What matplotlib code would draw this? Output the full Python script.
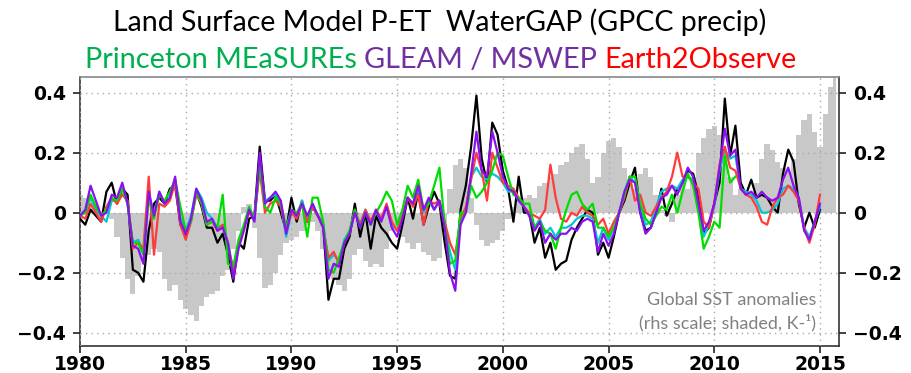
import numpy as np
import matplotlib
matplotlib.use("Agg")
import matplotlib.pyplot as plt

# ---------------- data (quarterly) ----------------
start_year = 1980.0
step = 0.25

watergap = [
    -0.02, -0.04, 0.01, -0.01,  -0.03, 0.07, 0.10, 0.03,   0.08, 0.06, -0.19, -0.20,
    -0.23, -0.06, 0.03, 0.05,   0.03, 0.08, 0.09, -0.04,   -0.08, -0.02, 0.07, 0.02,
    -0.05, -0.05, -0.10, -0.07, -0.14, -0.23, -0.10, -0.12, -0.02, -0.01, 0.22, 0.04,
    0.04, 0.06, 0.00, -0.06,    0.05, -0.03, 0.04, -0.03,  0.02, -0.01, -0.04, -0.29,
    -0.22, -0.22, -0.12, -0.08, 0.03, -0.08, 0.00, -0.12,  -0.01, -0.05, -0.07, -0.10,
    -0.12, -0.04, 0.05, -0.02,  0.07, -0.04, 0.02, 0.07,   0.03, -0.10, -0.21, -0.22,
    0.01, 0.09, 0.22, 0.39,     0.18, 0.10, 0.30, 0.26,    0.14, 0.08, -0.03, 0.12,
    0.00, 0.00, -0.10, -0.05,   -0.15, -0.10, -0.19, -0.17, -0.16, -0.09, -0.05, -0.02,
    0.01, 0.00, -0.14, -0.10,   -0.15, -0.08, 0.00, 0.04,  0.10, 0.15, 0.00, -0.06,
    -0.05, 0.00, 0.08, -0.01,   0.03, 0.08, 0.10, 0.14,    0.13, 0.06, -0.07, -0.05,
    0.03, 0.10, 0.38, 0.19,     0.29, 0.10, 0.06, 0.11,    0.05, 0.06, 0.05, 0.02,
    0.00, 0.13, 0.21, 0.17,     0.03, -0.05, 0.00, -0.05,  0.01,
]

gleam_mswep = [
    -0.01, 0.01, 0.09, 0.04,    -0.01, 0.00, 0.06, 0.05,   0.10, 0.03, -0.11, -0.12,
    -0.17, 0.07, -0.01, 0.07,   0.03, 0.05, 0.12, -0.03,   -0.07, -0.02, 0.08, 0.04,
    -0.03, -0.02, -0.06, -0.05, -0.10, -0.22, -0.12, -0.06, 0.01, -0.03, 0.20, 0.03,
    0.05, 0.07, 0.04, -0.07,    0.01, -0.01, 0.03, -0.01,  0.03, -0.01, -0.05, -0.22,
    -0.17, -0.18, -0.10, -0.07, 0.00, -0.05, 0.00, -0.04,  0.01, -0.03, 0.02, -0.05,
    -0.08, -0.02, 0.05, 0.03,   0.09, 0.01, 0.05, 0.01,    0.04, -0.05, -0.20, -0.26,
    -0.04, 0.00, 0.13, 0.27,    0.14, 0.12, 0.27, 0.20,    0.12, 0.08, 0.07, 0.04,
    0.02, -0.01, -0.06, -0.03,  -0.10, -0.07, -0.09, -0.07, -0.07, -0.05, -0.06, -0.03,
    -0.02, -0.03, -0.13, -0.07, -0.11, -0.07, 0.00, 0.07,  0.11, 0.10, 0.00, -0.07,
    -0.05, 0.00, 0.05, 0.06,    0.09, 0.06, 0.10, 0.15,    0.12, 0.03, -0.06, -0.03,
    0.03, 0.15, 0.28, 0.19,     0.21, 0.08, 0.06, 0.07,    0.05, 0.07, 0.05, 0.04,
    0.05, 0.11, 0.15, 0.09,     0.05, -0.06, -0.09, -0.03, 0.03,
]

earth2observe = [
    -0.01, -0.02, 0.03, 0.00,   -0.03, 0.02, 0.05, 0.03,   0.06, 0.04, -0.12, -0.10,
    -0.12, 0.12, -0.14, 0.03,   0.02, 0.04, 0.10, -0.04,   -0.09, -0.03, 0.06, 0.03,
    -0.04, -0.03, -0.06, -0.04, -0.11, -0.19, -0.10, -0.05, 0.00, -0.02, 0.14, 0.00,
    0.03, 0.04, 0.02, -0.06,    0.00, -0.02, 0.03, -0.03,  0.02, -0.01, -0.05, -0.15,
    -0.13, -0.17, -0.10, -0.07, 0.01, -0.04, 0.01, -0.03,  0.01, -0.02, 0.03, -0.03,
    -0.06, -0.01, 0.05, 0.02,   0.06, -0.04, 0.04, 0.03,   0.04, -0.03, -0.10, -0.14,
    -0.02, 0.02, 0.11, 0.20,    0.14, 0.04, 0.20, 0.15,    0.10, 0.09, 0.08, 0.05,
    0.02, 0.00, -0.01, -0.02,   0.01, 0.16, 0.05, -0.02,   -0.03, 0.00, -0.01, 0.02,
    0.00, -0.01, -0.04, -0.02,  -0.07, -0.03, 0.00, 0.05,  0.12, 0.04, 0.06, 0.00,
    -0.01, 0.02, 0.05, 0.07,    0.12, 0.20, 0.12, 0.12,    0.10, 0.08, -0.03, -0.05,
    0.03, 0.16, 0.22, 0.15,     0.14, 0.08, 0.06, 0.05,    0.02, -0.03, -0.04, 0.02,
    0.05, 0.06, 0.09, 0.07,     0.04, -0.05, -0.10, -0.04, 0.06,
]

princeton = [
    -0.01, 0.00, 0.06, 0.02,    -0.01, 0.01, 0.05, 0.04,   0.08, 0.03, -0.10, -0.10,
    -0.14, 0.05, -0.02, 0.06,   0.04, 0.07, 0.11, 0.02,    -0.06, -0.03, 0.07, 0.03,
    -0.04, -0.03, -0.05, 0.06,  -0.17, -0.18, -0.09, -0.04, 0.02, -0.02, 0.16, 0.02,
    0.00, 0.05, 0.03, -0.05,    0.01, 0.00, 0.03, -0.08,   0.05, 0.05, -0.03, -0.19,
    -0.20, -0.15, -0.10, -0.06, 0.01, -0.05, 0.00, -0.04,  0.00, 0.03, 0.07, 0.04,
    -0.04, 0.01, 0.09, 0.05,    0.11, 0.01, 0.03, 0.09,    0.15, -0.04, -0.17, -0.16,
    0.00, 0.00, 0.09, 0.05,     0.07, 0.10, 0.14, 0.20,    0.19, 0.12, 0.06, 0.05,
    0.03, 0.03, -0.05, -0.03,   -0.06, -0.07, -0.12, -0.05, 0.01, 0.06, 0.07, 0.03,
    0.01, 0.03, -0.05, -0.05,   -0.08, -0.05, 0.00, 0.06,  0.12, 0.12, 0.03, -0.02,
    -0.04, -0.01, 0.02, 0.01,   0.06, 0.00, 0.07, 0.13,    0.09, 0.00, -0.12, -0.08,
    -0.03, -0.05, 0.19, 0.10,   0.12,
]

measures = [
    -0.01, 0.00, 0.05, 0.01,    -0.01, -0.03, 0.04, 0.04,  0.08, 0.03, -0.10, -0.09,
    -0.13, 0.06, -0.01, 0.07,   0.03, 0.05, 0.11, -0.02,   -0.06, -0.01, 0.08, 0.05,
    0.00, -0.02, -0.05, -0.04,  -0.10, -0.19, -0.10, -0.05, 0.01, -0.02, 0.17, 0.04,
    0.05, 0.06, 0.03, -0.08,    0.00, -0.01, 0.04, -0.02,  0.03, -0.01, -0.04, -0.16,
    -0.14, -0.16, -0.09, -0.06, 0.00, -0.04, 0.01, -0.03,  0.00, -0.02, 0.02, -0.04,
    -0.06, -0.01, 0.05, 0.03,   0.08, 0.00, 0.04, 0.01,    0.04, -0.04, -0.13, -0.19,
    -0.03, 0.01, 0.12, 0.15,    0.12, 0.11, 0.13, 0.12,    0.10, 0.07, 0.07, 0.04,
    0.02, -0.01, -0.05, -0.02,  -0.07, -0.05, -0.08, -0.05, -0.05, -0.04, -0.02, -0.01,
    -0.01, -0.02, -0.10, -0.05, -0.09, -0.05, 0.00, 0.07,  0.12, 0.10, 0.02, -0.04,
    -0.03, 0.02, 0.07, 0.08,    0.09, 0.08, 0.11, 0.12,    0.11, 0.02, -0.08, -0.04,
    0.02, 0.14, 0.21, 0.18,     0.19, 0.08, 0.07, 0.06,    0.04, 0.00, 0.00, 0.01,
    0.03, 0.08, 0.09, 0.08,     0.05, -0.05, -0.08, -0.03, 0.02,
]

sst_anomaly = [
    0.06, 0.05, 0.02, 0.00,     -0.02, 0.00, -0.02, -0.08,  -0.15, -0.22, -0.27, -0.21,
    -0.16, -0.14, -0.12, -0.13, -0.22, -0.26, -0.24, -0.29, -0.32, -0.34, -0.36, -0.31,
    -0.28, -0.27, -0.26, -0.21, -0.19, -0.12, -0.06, 0.02,  0.03, -0.05, -0.15, -0.25,
    -0.24, -0.20, -0.14, -0.10, -0.09, -0.08, -0.06, -0.04, -0.03, -0.06, -0.12, -0.20,
    -0.22, -0.24, -0.26, -0.22, -0.14, -0.12, -0.16, -0.18, -0.17, -0.18, -0.12, -0.06,
    -0.05, -0.08, -0.10, -0.12, -0.10, -0.13, -0.14, -0.16, -0.15, -0.05, 0.08, 0.16,
    0.18, 0.15, 0.05, -0.04,    -0.09, -0.11, -0.10, -0.09, -0.06, -0.02, 0.02, 0.04,
    0.05, 0.06, 0.05, 0.09,     0.10, 0.12, 0.13, 0.16,    0.17, 0.20, 0.22, 0.23,
    0.18, 0.10, 0.12, 0.20,     0.24, 0.25, 0.22, 0.15,    0.10, 0.08, 0.13, 0.15,
    0.12, 0.06, 0.01, -0.01,    -0.03, 0.06, 0.10, 0.08,   0.12, 0.20, 0.25, 0.28,
    0.29, 0.26, 0.20, 0.12,     0.06, 0.08, 0.07, 0.06,    0.10, 0.18, 0.23, 0.21,
    0.17, 0.15, 0.14, 0.18,     0.26, 0.31, 0.33, 0.27,    0.22, 0.33, 0.42, 0.48,
]

x_ticks = [1980, 1985, 1990, 1995, 2000, 2005, 2010, 2015]
y_ticks = [-0.4, -0.2, 0.0, 0.2, 0.4]
y_tick_labels = ["\u22120.4", "\u22120.2", "0", "0.2", "0.4"]

title_line = "Land Surface Model P-ET  WaterGAP (GPCC precip)"
subtitle_parts = ["Princeton MEaSUREs", "GLEAM / MSWEP", "Earth2Observe"]
subtitle_colors = ["#00B050", "#7030A0", "#FF0000"]
note_lines = ["Global SST anomalies", "(rhs scale; shaded, K-\u00b9)"]

# ---------------- figure ----------------
W, H = 912, 373
fig = plt.figure(figsize=(W / 100, H / 100), dpi=100)
ax = fig.add_axes([80 / W, 27 / H, 759 / W, 269 / H])

def tgrid(n):
    return start_year + step * np.arange(n)

t_sst = tgrid(len(sst_anomaly))
ax.fill_between(t_sst, 0, sst_anomaly, step="mid", color="#c8c8c8",
                linewidth=0, zorder=1)

series = [
    (watergap, "#000000"),
    (measures, "#00c8d2"),
    (earth2observe, "#ff3b3b"),
    (princeton, "#00dd00"),
    (gleam_mswep, "#8a10f0"),
]
for vals, col in series:
    ax.plot(tgrid(len(vals)), vals, color=col, lw=1.6, zorder=3,
            solid_joinstyle="round")

ax.set_xlim(1980, 2015.9)
ax.set_ylim(-0.444, 0.452)
ax.set_xticks(x_ticks)
ax.set_yticks(y_ticks)
ax.set_yticklabels(y_tick_labels)
ax.grid(True, color="#a8a8a8", linestyle=(0, (1, 3)), linewidth=1.0, zorder=2)
ax.set_axisbelow(False)
for gl in ax.get_xgridlines() + ax.get_ygridlines():
    gl.set_zorder(2)

ax.tick_params(axis="both", direction="out", length=5, width=1.2,
               color="#222222", labelsize=13.5)
ax.tick_params(axis="x", pad=1.5)
ax.tick_params(axis="y", pad=5, right=True, labelright=True)
for lab in ax.get_xticklabels() + ax.get_yticklabels():
    lab.set_fontweight("bold")
    lab.set_family("DejaVu Sans")
for sp in ax.spines.values():
    sp.set_color("#333333")
    sp.set_linewidth(1.2)
ax.spines["top"].set_color("#888888")

# titles
fam = ["Lato", "DejaVu Sans"]
fig.text(440 / W, 1 - 22 / H, title_line, ha="center", va="center",
         fontsize=20.5, family=fam, color="black")

renderer = fig.canvas.get_renderer()
tmp_texts = []
widths = []
for s, c in zip(subtitle_parts, subtitle_colors):
    t = fig.text(0, 1 - 60 / H, s, ha="left", va="center", fontsize=20.8,
                 family=fam, color=c)
    tmp_texts.append(t)
    widths.append(t.get_window_extent(renderer).width)
probe1 = fig.text(0, 0, "M M", fontsize=20.8, family=fam)
probe2 = fig.text(0, 0, "MM", fontsize=20.8, family=fam)
gap = probe1.get_window_extent(renderer).width - probe2.get_window_extent(renderer).width
probe1.remove(); probe2.remove()
total = sum(widths) + gap * (len(widths) - 1)
xpos = 441 - total / 2
for t, w in zip(tmp_texts, widths):
    t.set_x(xpos / W)
    xpos += w + gap

# annotation
fig.text(816 / W, 1 - 300 / H, note_lines[0], ha="right", va="center",
         fontsize=13, family=fam, color="#808080")
fig.text(816 / W, 1 - 323 / H, note_lines[1], ha="right", va="center",
         fontsize=13, family=fam, color="#808080")

fig.savefig("out.png", dpi=100)
